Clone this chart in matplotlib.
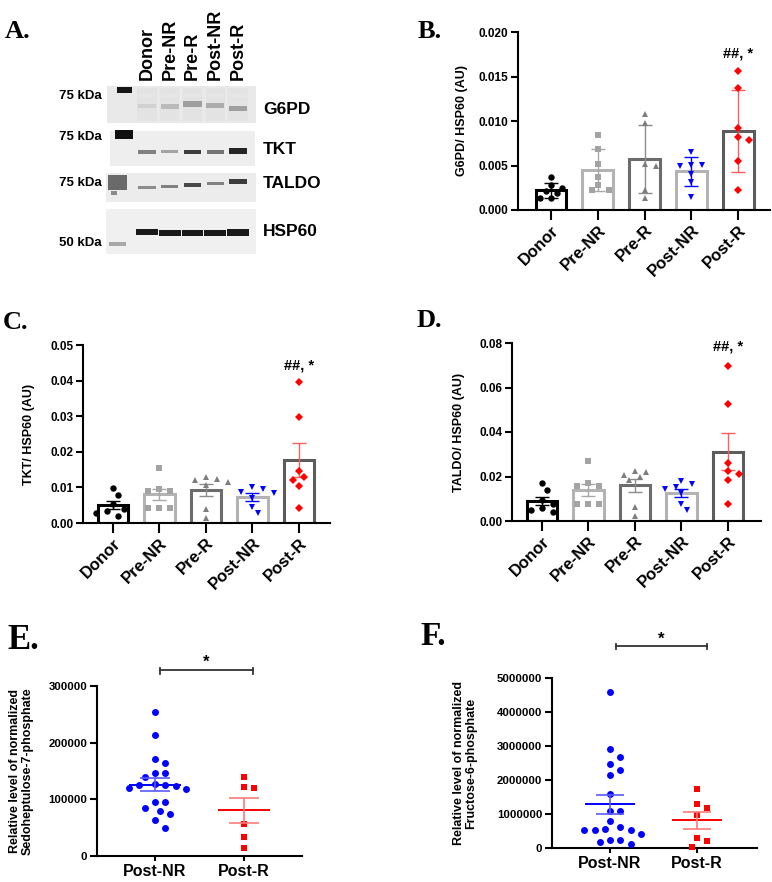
import numpy as np
import matplotlib
matplotlib.use('Agg')
import matplotlib.pyplot as plt

# ---------------- data ----------------
groups5 = ['Donor', 'Pre-NR', 'Pre-R', 'Post-NR', 'Post-R']
groups2 = ['Post-NR', 'Post-R']

g6pd_vals = [
    [0.0037, 0.0028, 0.0025, 0.0021, 0.0019, 0.0014, 0.0013],
    [0.0084, 0.0068, 0.0052, 0.0037, 0.0028, 0.0022, 0.0023],
    [0.0108, 0.0098, 0.0049, 0.0052, 0.0023, 0.0014],
    [0.0065, 0.0051, 0.0051, 0.0049, 0.0041, 0.0032, 0.0015],
    [0.0156, 0.0137, 0.0092, 0.0079, 0.0082, 0.0055, 0.0022],
]
tkt_vals = [
    [0.0097, 0.0079, 0.0052, 0.0038, 0.0029, 0.0034, 0.0021],
    [0.0154, 0.0096, 0.0091, 0.0091, 0.0043, 0.0043, 0.0043],
    [0.0116, 0.0130, 0.0121, 0.0124, 0.0107, 0.0038, 0.0015],
    [0.0102, 0.0095, 0.0088, 0.0085, 0.0069, 0.0046, 0.0027],
    [0.0397, 0.0299, 0.0147, 0.0121, 0.0128, 0.0105, 0.0043],
]
taldo_vals = [
    [0.0169, 0.0139, 0.0094, 0.0075, 0.0049, 0.0057, 0.0039],
    [0.0270, 0.0169, 0.0157, 0.0159, 0.0075, 0.0075, 0.0075],
    [0.0196, 0.0219, 0.0226, 0.0207, 0.0184, 0.0064, 0.0024],
    [0.0180, 0.0166, 0.0151, 0.0145, 0.0127, 0.0076, 0.0049],
    [0.0698, 0.0524, 0.0259, 0.0211, 0.0225, 0.0184, 0.0075],
]
s7p_postnr = [253500, 213000, 172000, 163500, 146000, 147000, 140000, 125000, 125000,
              119000, 120000, 123500, 127000, 96000, 96000, 84000, 79400, 74000, 63500, 50000]
s7p_postr = [140000, 121000, 119400, 55900, 33000, 13500]
f6p_postnr = [4580000, 2900000, 2690000, 2470000, 2290000, 2150000, 1580000, 1100000, 1090000,
              790000, 530000, 410000, 610000, 530000, 530000, 550000, 250000, 190000, 250000, 120000]
f6p_postr = [1740000, 1170000, 1290000, 970000, 280000, 210000, 40000]

# western blot (relative band intensities per lane)
blot_proteins = ['G6PD', 'TKT', 'TALDO', 'HSP60']
blot_markers = ['75 kDa', '75 kDa', '75 kDa', '50 kDa']
g6pd_band = [0.2, 0.3, 0.42, 0.36, 0.42]
tkt_band = [0.55, 0.4, 0.85, 0.6, 0.95]
taldo_band = [0.5, 0.55, 0.8, 0.55, 0.85]
hsp60_band = [1.0, 1.0, 1.0, 1.0, 1.0]

# ---------------- style ----------------
W, H = 772, 882
plt.rcParams['font.family'] = ['Liberation Sans', 'DejaVu Sans']
plt.rcParams['font.weight'] = 'bold'
plt.rcParams['axes.labelweight'] = 'bold'
plt.rcParams['axes.linewidth'] = 1.5
fig = plt.figure(figsize=(W / 100, H / 100), dpi=100)

mk_color = ['black', '#a3a3a3', '#7d7d7d', '#0000ff', '#ff0000']
bar_edge = ['black', '#b3b3b3', '#6c6c6c', '#b3b3b3', '#5c5c5c']
err_color = ['black', '#a8a8a8', '#8c8c8c', '#0000ff', '#ff5c5c']
mk_shape = ['o', 's', '^', 'v', 'D']
mk_size = [4.6, 4.3, 4.9, 4.9, 3.7]


def px_axes(l, t, r, b):
    return fig.add_axes([l / W, 1 - b / H, (r - l) / W, (b - t) / H])


def swarm(vals, ppu_y, step_px, dmin_px):
    vals = np.asarray(vals, float)
    order = np.argsort(vals)[::-1]
    placed = []
    offs = np.zeros(len(vals))
    cands = [0.0]
    for k in range(1, 30):
        cands += [k * step_px / 2, -k * step_px / 2]
    for idx in order:
        y = vals[idx] * ppu_y
        for c in cands:
            if all((c - px) ** 2 + (y - py) ** 2 >= dmin_px ** 2 for px, py in placed):
                break
        placed.append((c, y))
        offs[idx] = c
    return offs


def style_axes(ax):
    for s in ['top', 'right']:
        ax.spines[s].set_visible(False)
    ax.tick_params(axis='both', direction='out', width=1.5, length=5, pad=2)
    ax.tick_params(axis='x', length=7)


def bar_panel(rect, vals, ylim, yticks, fmt, ylabel, err_kind, lab_x, ann_frac, xlim, ppx):
    ax = px_axes(*rect)
    n = len(vals)
    means = [np.mean(v) for v in vals]
    if err_kind == 'sd':
        errs = [np.std(v, ddof=1) for v in vals]
    else:
        errs = [np.std(v, ddof=1) / np.sqrt(len(v)) for v in vals]
    ax.bar(range(n), means, width=0.66, facecolor='white', edgecolor=bar_edge,
           linewidth=2.2, zorder=2)
    h_px = rect[3] - rect[1]
    ppu_y = h_px / (ylim[1] - ylim[0])
    for i in range(n):
        ax.errorbar(i, means[i], yerr=errs[i], color=err_color[i], capsize=5,
                    elinewidth=1.0, capthick=1.0, zorder=3)
        offs = swarm(vals[i], ppu_y, 11, 7.5) / ppx
        ax.plot(i + offs, vals[i], linestyle='none', marker=mk_shape[i], ms=mk_size[i],
                color=mk_color[i], markeredgewidth=0, zorder=4, clip_on=False)
    ax.set_xlim(*xlim)
    ax.set_ylim(*ylim)
    ax.set_yticks(yticks)
    ax.set_yticklabels([fmt.format(t) for t in yticks], fontsize=8.5)
    ax.set_xticks(range(n))
    ax.set_xticklabels(groups5, rotation=45, ha='right', va='top',
                       rotation_mode='anchor', fontsize=12)
    style_axes(ax)
    ax.set_ylabel(ylabel, fontsize=9)
    ax.yaxis.set_label_coords(lab_x, 0.5)
    ax.text(4, ylim[0] + ann_frac * (ylim[1] - ylim[0]), '##, *', ha='center',
            va='baseline', fontsize=10.5)
    return ax


def dot_panel(rect, vals, ylim, yticks, ylabel, lab_x, xlim, ppx, bracket_y, br_x, star_y):
    ax = px_axes(*rect)
    cols = ['#0000ff', '#ff0000']
    light = ['#5a5aff', '#ff7a7a']
    shapes = ['o', 's']
    sizes = [5.0, 4.9]
    h_px = rect[3] - rect[1]
    ppu_y = h_px / (ylim[1] - ylim[0])
    for i, v in enumerate(vals):
        offs = swarm(v, ppu_y, 10.3, 9.5) / ppx
        ax.plot(i + offs, v, linestyle='none', marker=shapes[i], ms=sizes[i],
                color=cols[i], markeredgewidth=0, zorder=3, clip_on=False)
        m = np.mean(v)
        se = np.std(v, ddof=1) / np.sqrt(len(v))
        ax.hlines(m, i - 0.29, i + 0.29, color=cols[i], lw=1.4, zorder=4)
        ax.vlines(i, m - se, m + se, color=light[i], lw=1.2, zorder=4)
        ax.hlines([m - se, m + se], i - 0.165, i + 0.165, color=light[i], lw=1.2, zorder=4)
    ax.set_xlim(*xlim)
    ax.set_ylim(*ylim)
    ax.set_yticks(yticks)
    ax.set_yticklabels([str(int(t)) for t in yticks], fontsize=8.2)
    ax.set_xticks([0, 1])
    ax.set_xticklabels(groups2, fontsize=11.5)
    style_axes(ax)
    ax.tick_params(axis='x', length=3.5, pad=2)
    ax.set_ylabel(ylabel, fontsize=9, linespacing=1.05)
    ax.yaxis.set_label_coords(lab_x, 0.5)
    ax.plot([br_x[0], br_x[1]], [bracket_y, bracket_y], color='#333333', lw=1.3, clip_on=False)
    d = 0.02 * (ylim[1] - ylim[0])
    for xx in br_x:
        ax.plot([xx, xx], [bracket_y + d * 0.6, bracket_y - d], color='#333333', lw=1.3,
                clip_on=False)
    ax.text(np.mean(br_x), star_y, '*', ha='center', va='center', fontsize=12)
    return ax


# ---------------- Panel A (western blot) ----------------
lane_x0, lane_dx = 147, 22.75
axA = px_axes(104, 84, 258, 256)
axA.set_xlim((104 - lane_x0) / lane_dx, (258 - lane_x0) / lane_dx)
axA.set_ylim(256, 84)
axA.axis('off')
lanes = np.arange(5)
strips = [(107, 256, 86, 123, '#e9e9e9'), (110, 255, 131, 166, '#eeeeee'),
          (106, 256, 173, 202, '#ececec'), (106, 256, 209, 254, '#f0f0f0')]
for (l, r, t, b, c) in strips:
    axA.bar((l + r) / 2 / lane_dx - lane_x0 / lane_dx, b - t, bottom=t,
            width=(r - l) / lane_dx, color=c, zorder=1)


def gray(v):
    g = 1 - 0.9 * v
    return (g, g, g)


# G6PD smears
axA.bar(lanes, 33, bottom=88, width=0.85, color='#d8d8d8', alpha=0.35, zorder=2)
axA.bar(lanes, 3, bottom=94, width=0.75, color=[gray(0.1)] * 5, alpha=0.8, zorder=3)
strip_bands = [g6pd_band, tkt_band, taldo_band, hsp60_band]
band_y = [[106, 107, 104.5, 106, 109], [152, 152, 152, 152, 151],
          [187.3, 186.7, 185.3, 184, 181.7], [231.7, 232.7, 232.7, 233.3, 232.7]]
band_th = [[4, 5, 6, 5, 5], [3.5, 3, 4.5, 3.5, 6], [2.5, 3, 4, 3, 4.5], [6, 6, 6, 6, 6.5]]
band_w = [0.8, 0.75, 0.75, 0.95]
for s in range(4):
    th = np.array(band_th[s])
    axA.bar(lanes, th, bottom=np.array(band_y[s]) - th / 2, width=band_w[s],
            color=[gray(v) for v in strip_bands[s]], zorder=4)
# ladder lanes
axA.bar([-0.99], [6], bottom=[87], width=0.66, color='#151515', zorder=4)
axA.bar([-1.0], [9], bottom=[130.5], width=0.8, color='#101010', zorder=4)
axA.bar([-1.3], [15], bottom=[175], width=0.85, color='#6a6a6a', zorder=4)
axA.bar([-1.45], [4], bottom=[191], width=0.25, color='#8a8a8a', zorder=4)
axA.bar([-1.3], [4], bottom=[241.5], width=0.75, color='#a8a8a8', zorder=4)
for i, g in enumerate(groups5):
    axA.text(i, 80, g, rotation=90, ha='center', va='bottom', fontsize=13, clip_on=False)

for lab, yy in zip(blot_markers, [96, 137, 183, 243]):
    fig.text(102 / W, 1 - yy / H, lab, ha='right', va='center', fontsize=9.5)
for lab, yy in zip(blot_proteins, [110, 149, 184, 232]):
    fig.text(263 / W, 1 - yy / H, lab, ha='left', va='center', fontsize=12.5)

# ---------------- Panel B ----------------
bar_panel((518, 32, 770, 210), g6pd_vals, (0, 0.020), [0, 0.005, 0.010, 0.015, 0.020],
          '{:.3f}', 'G6PD/ HSP60 (AU)', 'sd', -0.20, 0.855, (-0.706, 4.68), 46.75)
# ---------------- Panel C ----------------
bar_panel((83, 345, 330, 523), tkt_vals, (0, 0.05), [0, 0.01, 0.02, 0.03, 0.04, 0.05],
          '{:.2f}', 'TKT/ HSP60 (AU)', 'sem', -0.195, 0.86, (-0.645, 4.667), 46.5)
# ---------------- Panel D ----------------
bar_panel((512, 343, 761, 521), taldo_vals, (0, 0.08), [0, 0.02, 0.04, 0.06, 0.08],
          '{:.2f}', 'TALDO/ HSP60 (AU)', 'sem', -0.19, 0.96, (-0.645, 4.71), 46.5)
# ---------------- Panel E ----------------
dot_panel((97, 686, 302, 856), [s7p_postnr, s7p_postr], (0, 300000),
          [0, 100000, 200000, 300000],
          'Relative level of normalized\nSedoheptulose-7-phosphate', -0.31,
          (-0.65, 1.65), 89, 328000, (0.06, 1.1), 342000)
# ---------------- Panel F ----------------
dot_panel((552, 678, 757, 848), [f6p_postnr, f6p_postr], (0, 5000000),
          [0, 1000000, 2000000, 3000000, 4000000, 5000000],
          'Relative level of normalized\nFructose-6-phosphate', -0.365,
          (-0.667, 1.69), 87, 5940000, (0.07, 1.115), 6150000)

# ---------------- panel letters ----------------
letters = [('A.', 5, 38.5, 19), ('B.', 418, 38, 19), ('C.', 3, 329, 19),
           ('D.', 417, 327, 19), ('E.', 7, 649, 25), ('F.', 420, 645, 24)]
for t, x, y, fs in letters:
    fig.text(x / W, 1 - y / H, t, ha='left', va='baseline', fontsize=fs,
             family=['Liberation Serif', 'DejaVu Serif'], weight='bold')

fig.savefig('out.png', dpi=100)
